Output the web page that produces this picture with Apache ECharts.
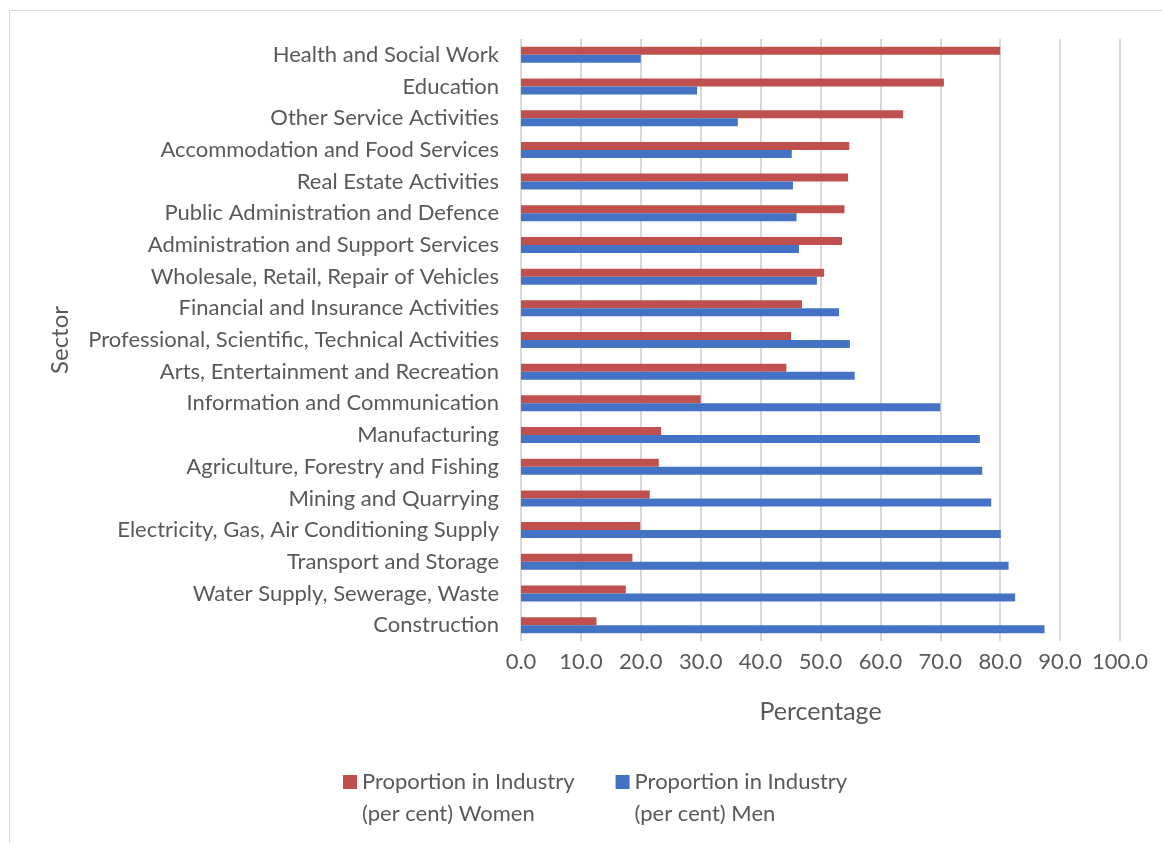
<!DOCTYPE html>
<html>
<head>
<meta charset="utf-8">
<title>Proportion in Industry by Sector</title>
<script src="https://cdn.jsdelivr.net/npm/echarts@6/dist/echarts.min.js"></script>
<style>
  html, body { margin: 0; padding: 0; background: #fff; }
  #chart { width: 1162px; height: 843px; }
</style>
</head>
<body>
<div id="chart"></div>
<script>
  // sectors, top to bottom
  var sectors = [
    'Health and Social Work',
    'Education',
    'Other Service Activities',
    'Accommodation and Food Services',
    'Real Estate Activities',
    'Public Administration and Defence',
    'Administration and Support Services',
    'Wholesale, Retail, Repair of Vehicles',
    'Financial and Insurance Activities',
    'Professional, Scientific, Technical Activities',
    'Arts, Entertainment and Recreation',
    'Information and Communication',
    'Manufacturing',
    'Agriculture, Forestry and Fishing',
    'Mining and Quarrying',
    'Electricity, Gas, Air Conditioning Supply',
    'Transport and Storage',
    'Water Supply, Sewerage, Waste',
    'Construction'
  ]
  var womenPct = [80.0, 70.6, 63.8, 54.8, 54.6, 54.0, 53.6, 50.6, 46.9, 45.1, 44.3, 30.0, 23.4, 23.0, 21.5, 19.9, 18.6, 17.5, 12.6]
  var menPct = [20.0, 29.4, 36.2, 45.2, 45.4, 46.0, 46.4, 49.4, 53.1, 54.9, 55.7, 70.0, 76.6, 77.0, 78.5, 80.1, 81.4, 82.5, 87.4]
  var seriesNames = ['Proportion in Industry\n(per cent) Women', 'Proportion in Industry\n(per cent) Men']

  var textColor = '#595959'
  var font = 'Lato'
  // square legend marker sitting at the top of a taller box, so it lines up with the first text line
  var legendIcon = 'path://M0,0H14V14H0Z M0,46L0,46'

  var chart = echarts.init(document.getElementById('chart'))
  chart.setOption({
    animation: false,
    textStyle: { fontFamily: font, color: textColor },
    graphic: [{
      type: 'rect',
      shape: { x: 9.5, y: 10.5, width: 1170, height: 850 },
      style: { fill: 'none', stroke: '#d9d9d9', lineWidth: 1 },
      silent: true
    }],
    grid: {
      left: 521,
      right: 42,
      top: 39,
      height: 602,
      containLabel: false
    },
    legend: {
      data: seriesNames,
      top: 766,
      left: 343,
      padding: 0,
      itemWidth: 14,
      itemHeight: 46,
      itemGap: 41,
      icon: legendIcon,
      textStyle: {
        fontFamily: font,
        fontSize: 22,
        color: textColor,
        lineHeight: 32
      }
    },
    xAxis: {
      type: 'value',
      min: 0,
      max: 100,
      interval: 10,
      name: 'Percentage',
      nameLocation: 'middle',
      nameGap: 58,
      nameTextStyle: { fontFamily: font, fontSize: 25, color: textColor },
      axisLine: { show: false },
      axisTick: { show: false },
      axisLabel: {
        margin: 10,
        fontFamily: font,
        fontSize: 22,
        color: textColor,
        formatter: function (v) { return v.toFixed(1) }
      },
      splitLine: { show: true, lineStyle: { color: '#d9d9d9', width: 2 } }
    },
    yAxis: {
      type: 'category',
      data: sectors,
      inverse: true,
      name: 'Sector',
      nameLocation: 'middle',
      nameGap: 449,
      nameRotate: 90,
      nameTextStyle: { fontFamily: font, fontSize: 24, color: textColor },
      axisLine: { show: false },
      axisTick: { show: false },
      axisLabel: {
        margin: 22,
        fontFamily: font,
        fontSize: 22,
        color: textColor
      }
    },
    series: [{
      name: seriesNames[0],
      type: 'bar',
      data: womenPct,
      barWidth: 8,
      barGap: '0%',
      itemStyle: { color: '#C0504D' }
    }, {
      name: seriesNames[1],
      type: 'bar',
      data: menPct,
      barWidth: 8,
      barGap: '0%',
      itemStyle: { color: '#4472C4' }
    }]
  })
</script>
</body>
</html>
